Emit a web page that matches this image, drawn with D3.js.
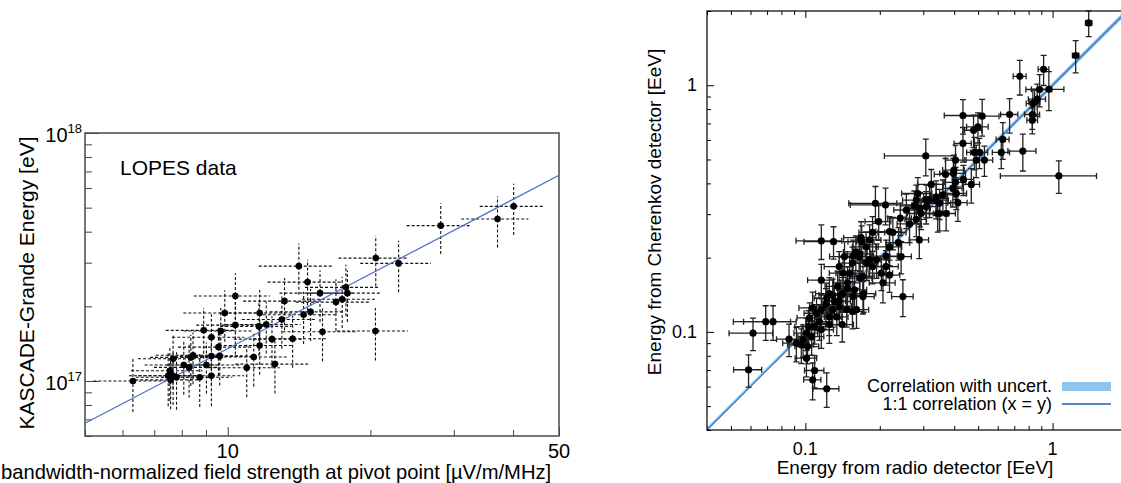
<!DOCTYPE html>
<html>
<head>
<meta charset="utf-8">
<script src="https://cdn.jsdelivr.net/npm/d3@7"></script>
<style>
  body { margin: 0; background: #fff; }
  svg { display: block; font-family: "Liberation Sans", Arial, Helvetica, sans-serif; }
</style>
</head>
<body>
<div id="chart"></div>
<script>
// ---- left panel: LOPES data ----
// field strength [µV/m/MHz] and its uncertainty
const lopesField = [6.31, 7.49, 7.67, 7.80, 7.58, 7.55, 7.67, 8.08, 8.29, 8.36, 8.45, 8.73, 9.02, 9.24, 9.24, 9.62,
  8.90, 9.24, 9.56, 9.67, 9.86, 10.38, 10.38, 10.97, 11.35, 11.68, 11.64, 11.68, 12.06, 12.40, 12.58, 13.01,
  13.18, 13.71, 14.13, 14.46, 14.74, 14.96, 15.66, 15.85, 16.92, 17.44, 17.76, 17.89, 20.53, 20.50, 22.94,
  28.15, 37.09, 40.12];
const lopesFieldErr = [1.1, 1.3, 1.2, 1.4, 1.2, 1.3, 1.2, 1.4, 1.3, 1.5, 1.4, 1.5, 1.6, 1.6, 1.5, 1.7,
  1.5, 1.6, 1.7, 1.6, 1.8, 1.9, 1.8, 1.9, 2.0, 2.1, 2.0, 2.1, 2.2, 2.1, 2.2, 2.3,
  2.4, 2.4, 2.5, 2.6, 2.6, 2.7, 2.8, 2.8, 3.0, 3.1, 3.2, 3.2, 3.4, 3.5, 3.9,
  4.3, 6.0, 6.1];
// KASCADE-Grande energy [eV] and its uncertainty
const lopesEnergy = [1.00e17, 1.05e17, 1.05e17, 1.035e17, 1.01e17, 1.10e17, 1.23e17, 1.16e17, 1.135e17, 1.245e17, 1.27e17, 1.035e17, 1.16e17, 1.05e17, 1.26e17, 1.26e17,
  1.60e17, 1.50e17, 1.37e17, 1.59e17, 1.88e17, 2.20e17, 1.68e17, 1.13e17, 1.25e17, 1.88e17, 1.66e17, 1.39e17, 1.69e17, 1.475e17, 1.17e17, 1.77e17,
  2.10e17, 1.48e17, 2.905e17, 1.85e17, 2.505e17, 1.90e17, 2.26e17, 1.58e17, 2.08e17, 2.135e17, 2.385e17, 2.26e17, 3.13e17, 1.59e17, 2.98e17,
  4.23e17, 4.50e17, 5.06e17];
const lopesEnergyErr = [0.25e17, 0.26e17, 0.25e17, 0.27e17, 0.24e17, 0.27e17, 0.30e17, 0.28e17, 0.28e17, 0.29e17, 0.30e17, 0.25e17, 0.27e17, 0.26e17, 0.30e17, 0.30e17,
  0.37e17, 0.36e17, 0.32e17, 0.38e17, 0.44e17, 0.52e17, 0.40e17, 0.27e17, 0.30e17, 0.45e17, 0.40e17, 0.33e17, 0.40e17, 0.35e17, 0.28e17, 0.42e17,
  0.50e17, 0.35e17, 0.68e17, 0.44e17, 0.58e17, 0.45e17, 0.53e17, 0.38e17, 0.49e17, 0.50e17, 0.56e17, 0.53e17, 0.72e17, 0.38e17, 0.70e17,
  0.98e17, 1.05e17, 1.18e17];
const lopesFitNorm = 1.35e16;   // E = norm * field (slope 1 in log-log)
const leftXLabels = [10, 50];
const leftYLabels = [[1e17, "17"], [1e18, "18"]];

// ---- right panel: radio vs Cherenkov energy [EeV] ----
const radioEnergy = [1.40, 1.24, 0.920, 0.737, 0.966, 0.886, 0.867, 0.832, 0.846, 0.828, 0.828, 0.670, 0.519, 0.434, 0.499, 0.479,
  0.629, 0.434, 0.620, 0.758, 1.06, 0.307, 0.483, 0.506, 0.491, 0.530, 0.405, 0.369, 0.397, 0.436, 0.469, 0.405,
  0.395, 0.323, 0.408, 0.285, 0.360, 0.338, 0.318, 0.349, 0.414, 0.281, 0.256, 0.276, 0.291, 0.308, 0.343, 0.371,
  0.294, 0.192, 0.211, 0.242, 0.198, 0.226, 0.187, 0.182, 0.289, 0.281, 0.168, 0.399, 0.338, 0.308, 0.349, 0.264,
  0.219, 0.169, 0.116, 0.130, 0.238, 0.219, 0.244, 0.212, 0.176, 0.160, 0.144, 0.165, 0.182, 0.155, 0.187, 0.212,
  0.219, 0.206, 0.171, 0.151, 0.137, 0.148, 0.135, 0.125, 0.139, 0.158, 0.171, 0.116, 0.248, 0.137, 0.155, 0.121,
  0.131, 0.142, 0.166, 0.156, 0.177, 0.194, 0.203, 0.172, 0.156, 0.142, 0.137, 0.129, 0.122, 0.148, 0.147, 0.161,
  0.129, 0.125, 0.116, 0.107, 0.111, 0.114, 0.104, 0.103, 0.109, 0.116, 0.101, 0.106, 0.0979, 0.0920, 0.0859, 0.0963,
  0.102, 0.101, 0.109, 0.107, 0.122, 0.141, 0.125, 0.0740, 0.0691, 0.0614, 0.0589, 0.134, 0.166];
const cherenkovEnergy = [1.79, 1.32, 1.16, 1.087, 0.963, 0.961, 0.878, 0.843, 0.856, 0.761, 0.722, 0.761, 0.749, 0.754, 0.678, 0.657,
  0.603, 0.581, 0.534, 0.541, 0.429, 0.517, 0.534, 0.534, 0.497, 0.497, 0.497, 0.435, 0.439, 0.415, 0.396, 0.404,
  0.382, 0.396, 0.364, 0.364, 0.359, 0.342, 0.342, 0.332, 0.334, 0.342, 0.312, 0.324, 0.317, 0.322, 0.302, 0.302,
  0.302, 0.332, 0.327, 0.289, 0.280, 0.253, 0.253, 0.236, 0.236, 0.286, 0.241, 0.453, 0.353, 0.342, 0.302, 0.274,
  0.255, 0.232, 0.234, 0.232, 0.230, 0.221, 0.202, 0.203, 0.221, 0.211, 0.202, 0.202, 0.196, 0.190, 0.184, 0.184,
  0.170, 0.158, 0.168, 0.173, 0.184, 0.158, 0.153, 0.143, 0.141, 0.148, 0.139, 0.162, 0.139, 0.127, 0.121, 0.129,
  0.133, 0.173, 0.207, 0.203, 0.190, 0.196, 0.173, 0.143, 0.139, 0.143, 0.133, 0.141, 0.137, 0.150, 0.123, 0.123,
  0.123, 0.115, 0.123, 0.125, 0.119, 0.110, 0.114, 0.105, 0.105, 0.102, 0.0988, 0.0957, 0.0928, 0.0900, 0.0934, 0.0886,
  0.0872, 0.0782, 0.0697, 0.0639, 0.0588, 0.107, 0.107, 0.110, 0.110, 0.0988, 0.0702, 0.115, 0.165];
// relative uncertainties in percent
const radioUncPct = [3, 3, 5, 6, 15, 12, 8, 6, 5, 7, 5, 8, 17, 16, 10, 8,
  6, 8, 8, 13, 42, 32, 7, 8, 9, 8, 9, 10, 12, 10, 8, 10,
  9, 12, 10, 14, 11, 12, 10, 11, 9, 12, 11, 12, 10, 11, 10, 9,
  12, 22, 28, 11, 12, 13, 12, 11, 9, 10, 15, 10, 11, 10, 9, 11,
  12, 12, 21, 24, 11, 12, 10, 11, 12, 11, 13, 12, 11, 12, 11, 12,
  10, 12, 11, 12, 13, 12, 11, 12, 11, 12, 11, 12, 10, 12, 11, 12,
  11, 12, 11, 12, 11, 12, 11, 12, 11, 12, 11, 12, 11, 12, 11, 12,
  11, 12, 11, 12, 11, 12, 11, 12, 11, 12, 11, 12, 11, 12, 11, 12,
  11, 10, 9, 8, 12, 11, 12, 24, 26, 20, 13, 11, 12];
const cherenkovUncPct = [12, 15, 14, 16, 18, 15, 15, 14, 12, 13, 12, 16, 17, 16, 14, 15,
  17, 16, 14, 17, 15, 17, 15, 14, 15, 14, 15, 16, 15, 14, 16, 15,
  16, 15, 14, 16, 15, 16, 15, 14, 16, 15, 16, 15, 16, 15, 16, 15,
  14, 17, 17, 15, 16, 15, 16, 15, 16, 15, 16, 15, 16, 15, 15, 16,
  15, 16, 16, 15, 15, 16, 15, 16, 15, 16, 15, 16, 15, 16, 15, 16,
  15, 17, 15, 16, 15, 16, 15, 16, 15, 16, 15, 16, 17, 16, 15, 16,
  15, 16, 15, 16, 15, 16, 15, 16, 15, 16, 15, 16, 15, 16, 15, 16,
  15, 16, 15, 16, 15, 16, 15, 16, 15, 16, 15, 16, 15, 16, 15, 16,
  15, 16, 15, 17, 16, 15, 16, 16, 16, 15, 15, 16, 15];
const correlationUnc = 0.025;   // relative width of the 1:1 band
const rightLabels = [[0.1, "0.1"], [1, "1"]];

const width = 1121, height = 483;
const svg = d3.select("#chart").append("svg")
  .attr("width", width)
  .attr("height", height);

// ================= left panel =================
const L = { left: 85, right: 559, top: 133, bottom: 436 };
const xL = d3.scaleLog().domain([5, 50]).range([L.left, L.right]);
const yL = d3.scaleLog().domain([6e16, 1e18]).range([L.bottom, L.top]);
const gL = svg.append("g");

// split log ticks into minor and major
function logTicks(scale, majors) {
  const all = scale.ticks();
  return {
    minor: all.filter(v => !majors.some(m => Math.abs(m - v) / m < 1e-6)),
    major: majors
  };
}
const lxT = logTicks(xL, [10, 50]);
const lyT = logTicks(yL, [1e17, 1e18]);

[[lxT.minor, -6], [lxT.major, -9]].forEach(([vals, size]) => {
  gL.append("g")
    .attr("transform", `translate(0,${L.bottom})`)
    .call(d3.axisBottom(xL).tickValues(vals).tickSize(size).tickFormat(""))
    .call(g => g.select(".domain").remove())
    .selectAll("line").attr("stroke", "#444");
});
[[lyT.minor, -7], [lyT.major, -14]].forEach(([vals, size]) => {
  gL.append("g")
    .attr("transform", `translate(${L.left},0)`)
    .call(d3.axisLeft(yL).tickValues(vals).tickSize(size).tickFormat(""))
    .call(g => g.select(".domain").remove())
    .selectAll("line").attr("stroke", "#444");
});

gL.append("rect")
  .attr("x", L.left).attr("y", L.top)
  .attr("width", L.right - L.left).attr("height", L.bottom - L.top)
  .attr("fill", "none").attr("stroke", "#4a4a4a").attr("stroke-width", 1.5);

// error bars (dashed)
const lopes = lopesField.map((f, i) => ({
  x: f, xe: lopesFieldErr[i], y: lopesEnergy[i], ye: lopesEnergyErr[i]
}));
const gErrL = gL.append("g")
  .attr("stroke", "#111")
  .attr("stroke-width", 1.1)
  .attr("stroke-dasharray", "3,2");
gErrL.selectAll(".h").data(lopes).join("line")
  .attr("x1", d => xL(d.x - d.xe)).attr("x2", d => xL(d.x + d.xe))
  .attr("y1", d => yL(d.y)).attr("y2", d => yL(d.y));
gErrL.selectAll(".v").data(lopes).join("line")
  .attr("x1", d => xL(d.x)).attr("x2", d => xL(d.x))
  .attr("y1", d => yL(d.y - d.ye)).attr("y2", d => yL(d.y + d.ye));

// fit line
const fitLine = d3.line().x(d => xL(d)).y(d => yL(lopesFitNorm * d));
gL.append("path")
  .datum([5, 50])
  .attr("d", fitLine)
  .attr("fill", "none")
  .attr("stroke", "#4a6cc4")
  .attr("stroke-width", 1.2);

gL.selectAll("circle").data(lopes).join("circle")
  .attr("cx", d => xL(d.x)).attr("cy", d => yL(d.y))
  .attr("r", 3.3).attr("fill", "#000");

// labels
gL.selectAll(".xlab").data(leftXLabels).join("text")
  .attr("x", d => xL(d)).attr("y", L.bottom + 22)
  .attr("text-anchor", "middle")
  .style("font-size", "20px")
  .text(d => d);
leftYLabels.forEach(([v, exp]) => {
  const t = gL.append("text")
    .attr("x", L.left - 3).attr("y", yL(v) + 9)
    .attr("text-anchor", "end")
    .style("font-size", "20px");
  t.append("tspan").text("10");
  t.append("tspan").attr("dy", -9).style("font-size", "13px").text(exp);
});
gL.append("text")
  .attr("x", 120).attr("y", 175)
  .style("font-size", "21px")
  .text("LOPES data");
gL.append("text")
  .attr("transform", "translate(34,283) rotate(-90)")
  .attr("text-anchor", "middle")
  .style("font-size", "21px")
  .text("KASCADE-Grande Energy [eV]");
gL.append("text")
  .attr("x", 1).attr("y", 479)
  .attr("text-anchor", "start")
  .style("font-size", "20.2px")
  .text("bandwidth-normalized field strength at pivot point [\u00b5V/m/MHz]");

// ================= right panel =================
const R = { left: 707, right: 1127, top: 11, bottom: 430 };
const xR = d3.scaleLog().domain([0.04, 2]).range([R.left, R.right]);
const yR = d3.scaleLog().domain([0.04, 2]).range([R.bottom, R.top]);
const gR = svg.append("g");

const rxT = logTicks(xR, [0.1, 1]);
const ryT = logTicks(yR, [0.1, 1]);
[[rxT.minor, 4], [rxT.major, 7]].forEach(([vals, size]) => {
  gR.append("g").attr("transform", `translate(0,${R.bottom})`)
    .call(d3.axisBottom(xR).tickValues(vals).tickSize(-size).tickFormat(""))
    .call(g => g.select(".domain").remove());
  gR.append("g").attr("transform", `translate(0,${R.top})`)
    .call(d3.axisTop(xR).tickValues(vals).tickSize(-size).tickFormat(""))
    .call(g => g.select(".domain").remove());
});
[[ryT.minor, 4], [ryT.major, 7]].forEach(([vals, size]) => {
  gR.append("g").attr("transform", `translate(${R.left},0)`)
    .call(d3.axisLeft(yR).tickValues(vals).tickSize(-size).tickFormat(""))
    .call(g => g.select(".domain").remove());
});

// 1:1 correlation band and line
const diag = [0.04, 2];
gR.append("path")
  .datum(diag)
  .attr("d", d3.area()
    .x(d => xR(d))
    .y0(d => yR(Math.max(0.04, d * (1 - correlationUnc))))
    .y1(d => yR(d * (1 + correlationUnc))))
  .attr("fill", "#8fc4ec");
gR.append("path")
  .datum(diag)
  .attr("d", d3.line().x(d => xR(d)).y(d => yR(d)))
  .attr("fill", "none")
  .attr("stroke", "#3f7acb")
  .attr("stroke-width", 1.4);

gR.append("rect")
  .attr("x", R.left).attr("y", R.top)
  .attr("width", R.right - R.left).attr("height", R.bottom - R.top)
  .attr("fill", "none").attr("stroke", "#000").attr("stroke-width", 1.2);

const pts = radioEnergy.map((x, i) => ({
  x, y: cherenkovEnergy[i],
  xe: x * radioUncPct[i] / 100,
  ye: cherenkovEnergy[i] * cherenkovUncPct[i] / 100
}));
const cap = 3;
const gErrR = gR.append("g").attr("stroke", "#222").attr("stroke-width", 1.3).attr("fill", "none");
gErrR.selectAll("path").data(pts).join("path")
  .attr("d", d => {
    const cx = xR(d.x), cy = yR(d.y);
    const xa = xR(d.x - d.xe), xb = xR(d.x + d.xe);
    const ya = yR(d.y - d.ye), yb = yR(d.y + d.ye);
    return `M${xa},${cy}H${xb}M${xa},${cy - cap}V${cy + cap}M${xb},${cy - cap}V${cy + cap}` +
      `M${cx},${ya}V${yb}M${cx - cap},${ya}H${cx + cap}M${cx - cap},${yb}H${cx + cap}`;
  });
gR.append("g").selectAll("circle").data(pts).join("circle")
  .attr("cx", d => xR(d.x)).attr("cy", d => yR(d.y))
  .attr("r", 3.6).attr("fill", "#000");

// tick labels
gR.selectAll(".xl").data(rightLabels).join("text")
  .attr("x", d => xR(d[0])).attr("y", R.bottom + 25)
  .attr("text-anchor", "middle")
  .style("font-size", "18px")
  .text(d => d[1]);
gR.selectAll(".yl").data(rightLabels).join("text")
  .attr("x", R.left - 10).attr("y", d => yR(d[0]) + 6)
  .attr("text-anchor", "end")
  .style("font-size", "18px")
  .text(d => d[1]);

gR.append("text")
  .attr("x", 915).attr("y", 474)
  .attr("text-anchor", "middle")
  .style("font-size", "19px")
  .text("Energy from radio detector [EeV]");
gR.append("text")
  .attr("transform", "translate(661,212) rotate(-90)")
  .attr("text-anchor", "middle")
  .style("font-size", "19px")
  .text("Energy from Cherenkov detector [EeV]");

// legend
const lg = gR.append("g");
lg.append("rect").attr("x", 1062).attr("y", 382).attr("width", 49).attr("height", 9).attr("fill", "#8fc4ec");
lg.append("line").attr("x1", 1062).attr("x2", 1111).attr("y1", 404).attr("y2", 404)
  .attr("stroke", "#5a86c6").attr("stroke-width", 2);
lg.append("text").attr("x", 1052).attr("y", 392).attr("text-anchor", "end")
  .style("font-size", "18px").text("Correlation with uncert.");
lg.append("text").attr("x", 1052).attr("y", 410).attr("text-anchor", "end")
  .style("font-size", "18px").text("1:1 correlation (x = y)");
</script>
</body>
</html>
